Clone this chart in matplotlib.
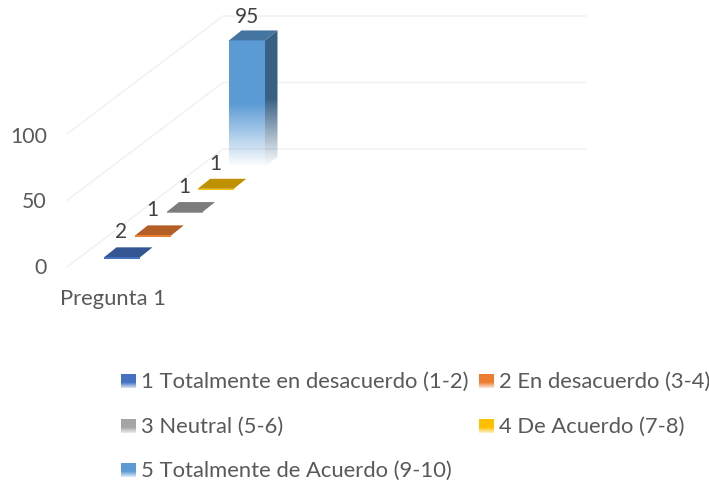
import matplotlib
matplotlib.use("Agg")
import matplotlib.pyplot as plt
import numpy as np
from matplotlib.colors import to_rgb
from matplotlib.patches import Polygon, Rectangle

plt.rcParams['font.family'] = ['Lato', 'DejaVu Sans']

# datos
category = "Pregunta 1"
series_names = ["1 Totalmente en desacuerdo (1-2)", "2 En desacuerdo (3-4)", "3 Neutral (5-6)",
                "4 De Acuerdo (7-8)", "5 Totalmente de Acuerdo (9-10)"]
series_values = [2, 1, 1, 1, 95]
axis_ticks = [0, 50, 100]

colors = ["#4472C4", "#ED7D31", "#A5A5A5", "#FFC000", "#5B9BD5"]
text_color = "#595959"
label_color = "#404040"

# geometria de la proyeccion, en pixeles de la imagen
PX_PER_UNIT = 1.33
BASE_Y = 267
FRONT_X = 67
BAR_W = 36
STEP_X, STEP_Y = 31.25, -23.3
DEPTH_X, DEPTH_Y = 12.5, -10
FIRST_X, FIRST_Y = 104, 260


def darker(color, f):
    return tuple(c * f for c in to_rgb(color))


def fade_image(ax, color, x0, x1, y0, y1, start, clip):
    # degradado hacia blanco en la parte baja de la barra
    t = np.linspace(0, 1, 200)
    alpha = np.where(t < start, 1.0, 1 - (t - start) / (1 - start))
    img = np.zeros((200, 1, 4))
    img[:, :, :3] = to_rgb(color)
    img[:, 0, 3] = alpha
    im = ax.imshow(img, extent=(x0, x1, y1, y0), aspect="auto", zorder=3, interpolation="bilinear")
    im.set_clip_path(clip)


fig = plt.figure(figsize=(7.09, 4.83), dpi=100)
ax = fig.add_axes([0, 0, 1, 1])

# rejilla
for tick in axis_ticks:
    y = BASE_Y - tick * PX_PER_UNIT
    ax.plot([FRONT_X, 223, 586], [y, y - 118, y - 118], color="#F0F0F0", lw=1, zorder=1)
    ax.text(47, y + 1 + tick * 0.02, str(tick), ha="right", va="center", fontsize=15.3, color=text_color)

ax.text(113.5, 299, category, ha="center", va="center", fontsize=15.8, color=text_color)

# barras
for i, (v, c) in enumerate(zip(series_values, colors)):
    x0 = FIRST_X + i * STEP_X
    bottom = FIRST_Y + i * STEP_Y
    top = bottom - v * PX_PER_UNIT
    x1 = x0 + BAR_W
    top_face = [(x0, top), (x1, top), (x1 + DEPTH_X, top + DEPTH_Y), (x0 + DEPTH_X, top + DEPTH_Y)]
    ax.add_patch(Polygon(top_face, closed=True, fc=darker(c, 0.75), ec="none", zorder=4))
    front = Rectangle((x0, top), BAR_W, v * PX_PER_UNIT, fc="none", ec="none", zorder=3)
    ax.add_patch(front)
    side = Polygon([(x1, top), (x1 + DEPTH_X, top + DEPTH_Y), (x1 + DEPTH_X, bottom + DEPTH_Y), (x1, bottom)],
                   closed=True, fc="none", ec="none", zorder=3)
    ax.add_patch(side)
    if v > 10:
        fade_image(ax, c, x0, x1, top, bottom, 0.5, front)
        fade_image(ax, darker(c, 0.62), x1, x1 + DEPTH_X, top + DEPTH_Y, bottom, 0.5, side)
    else:
        # barras casi planas: solo un filo claro delante
        ax.add_patch(Rectangle((x0, top), BAR_W, 1.2, fc=c, ec="none", zorder=5))
    ax.text(x0 + BAR_W / 2 - 0.5 if v < 10 else x0 + 17.5, top - 25 if v < 10 else top - 23, str(v),
            ha="center", va="center", fontsize=15, color=label_color, zorder=5)

# leyenda
legend_pos = [(121, 381), (479, 381), (121, 426), (479, 426), (121, 470)]
for name, c, (lx, ly) in zip(series_names, colors, legend_pos):
    t = np.linspace(0, 1, 50)
    alpha = np.where(t < 0.6, 1.0, 1 - (t - 0.6) / 0.4 * 0.8)
    img = np.zeros((50, 1, 4))
    img[:, :, :3] = to_rgb(c)
    img[:, 0, 3] = alpha
    ax.imshow(img, extent=(lx, lx + 15, ly + 7, ly - 7), aspect="auto", zorder=3)
    ax.text(lx + 20, ly + 1, name, ha="left", va="center", fontsize=15.8, color=text_color)

ax.set_xlim(0, 709)
ax.set_ylim(483, 0)
ax.axis("off")

fig.savefig("out.png", dpi=100)
